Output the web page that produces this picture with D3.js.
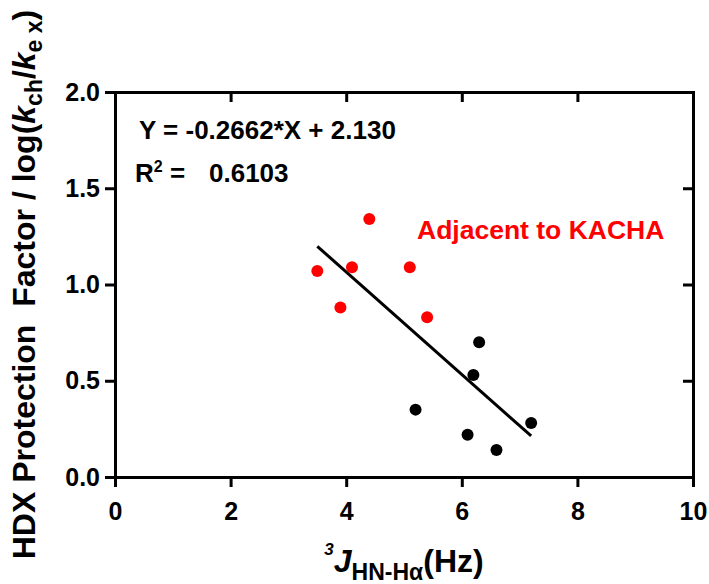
<!DOCTYPE html>
<html>
<head>
<meta charset="utf-8">
<title>HDX protection vs 3J coupling</title>
<style>
  body { margin: 0; background: #fff; }
  text { font-family: "Liberation Sans", Arial, sans-serif; font-weight: bold; }
</style>
</head>
<body>
<div id="container"></div>
<script src="https://d3js.org/d3.v7.min.js"></script>
<script>

// values
const redX = [3.5, 4.1, 4.4, 5.1, 3.9, 5.4];
const redY = [1.07, 1.09, 1.34, 1.09, 0.88, 0.83];
const blackX = [6.3, 6.2, 5.2, 7.2, 6.1, 6.6];
const blackY = [0.70, 0.53, 0.35, 0.28, 0.22, 0.14];
const slope = -0.2662;
const intercept = 2.130;
const fitX = [3.5, 7.2];
const xTicks = [0, 2, 4, 6, 8, 10];
const yTicks = [0, 0.5, 1.0, 1.5, 2.0];

const width = 709;
const height = 584;
const margin = { top: 92, right: 16, bottom: 107, left: 115 };

const x = d3.scaleLinear().domain([0, 10]).range([margin.left, width - margin.right]);
const y = d3.scaleLinear().domain([0, 2]).range([height - margin.bottom, margin.top]);

const svg = d3.select("#container")
  .append("svg")
  .attr("width", width)
  .attr("height", height);

const styleAxis = g => {
  g.select(".domain").attr("stroke-width", 3).attr("stroke-linecap", "square");
  g.selectAll(".tick line").attr("stroke-width", 3);
  g.selectAll(".tick text")
    .attr("font-family", "'Liberation Sans', Arial, sans-serif")
    .attr("font-weight", "bold")
    .attr("font-size", 25)
    .attr("fill", "#000");
};

// frame: top and right with inward ticks, no labels
svg.append("g")
  .attr("transform", `translate(0,${margin.top})`)
  .call(d3.axisTop(x).tickValues(xTicks).tickSizeInner(-10).tickSizeOuter(0).tickFormat(""))
  .call(styleAxis);

svg.append("g")
  .attr("transform", `translate(${width - margin.right},0)`)
  .call(d3.axisRight(y).tickValues(yTicks).tickSizeInner(-10).tickSizeOuter(0).tickFormat(""))
  .call(styleAxis);

svg.append("g")
  .attr("transform", `translate(0,${height - margin.bottom})`)
  .call(d3.axisBottom(x).tickValues(xTicks).tickSizeInner(10).tickSizeOuter(0).tickPadding(15))
  .call(styleAxis);

svg.append("g")
  .attr("transform", `translate(${margin.left},0)`)
  .call(d3.axisLeft(y).tickValues(yTicks).tickSizeInner(10).tickSizeOuter(0).tickPadding(5)
    .tickFormat(d3.format(".1f")))
  .call(styleAxis);

// regression line
svg.append("path")
  .datum(fitX.map(v => [v, slope * v + intercept]))
  .attr("d", d3.line().x(d => x(d[0])).y(d => y(d[1])))
  .attr("fill", "none")
  .attr("stroke", "#000")
  .attr("stroke-width", 3);

// points
svg.append("g").selectAll("circle")
  .data(redX.map((v, i) => [v, redY[i]]))
  .join("circle")
  .attr("cx", d => x(d[0]))
  .attr("cy", d => y(d[1]))
  .attr("r", 6)
  .attr("fill", "#ff0000");

svg.append("g").selectAll("circle")
  .data(blackX.map((v, i) => [v, blackY[i]]))
  .join("circle")
  .attr("cx", d => x(d[0]))
  .attr("cy", d => y(d[1]))
  .attr("r", 6)
  .attr("fill", "#000");

// equation and R2
svg.append("text")
  .attr("x", 139).attr("y", 139)
  .attr("font-size", 26)
  .text(`Y = ${slope}*X + ${intercept.toFixed(3)}`);

const r2 = svg.append("text")
  .attr("x", 135).attr("y", 182)
  .attr("font-size", 26);
r2.append("tspan").text("R");
r2.append("tspan").attr("font-size", 16).attr("dy", -10).text("2");
r2.append("tspan").attr("dy", 10).text(" =");
r2.append("tspan").attr("x", 209).text("0.6103");

svg.append("text")
  .attr("x", 417).attr("y", 239)
  .attr("font-size", 26.5)
  .attr("fill", "#ff0000")
  .text("Adjacent to KACHA");

// x title
const xt = svg.append("text")
  .attr("x", (margin.left + width - margin.right) / 2)
  .attr("y", 572)
  .attr("text-anchor", "middle")
  .attr("font-size", 32);
xt.append("tspan").attr("font-size", 17).attr("font-style", "italic").attr("dy", -17).text("3");
xt.append("tspan").attr("font-style", "italic").attr("dy", 17).text("J");
xt.append("tspan").attr("font-size", 23).attr("dy", 8).text("HN-Hα");
xt.append("tspan").attr("dy", -8).text("(Hz)");

// y title
const yt = svg.append("text")
  .attr("transform", `translate(35,${(margin.top + height - margin.bottom) / 2}) rotate(-90)`)
  .attr("text-anchor", "middle")
  .attr("font-size", 32)
  .style("white-space", "pre");
yt.append("tspan").text("HDX Protection  Factor / log(");
yt.append("tspan").attr("font-style", "italic").text("k");
yt.append("tspan").attr("font-size", 23).attr("dy", 7).text("ch");
yt.append("tspan").attr("dy", -7).text("/");
yt.append("tspan").attr("font-style", "italic").text("k");
yt.append("tspan").attr("font-size", 23).attr("dy", 7).text("e x");
yt.append("tspan").attr("dy", -7).text(")");

</script>
</body>
</html>
